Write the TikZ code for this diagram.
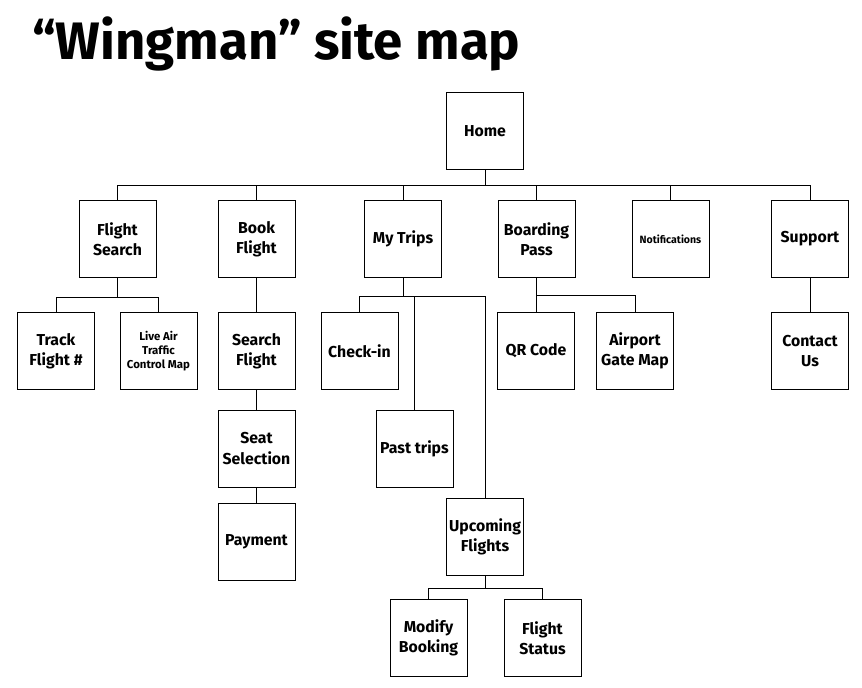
\documentclass[tikz,border=0pt]{standalone}
\usepackage{fontspec}
\setmainfont{Fira Sans}
\tikzstyle{page}=[rectangle, draw, minimum width=1.54cm, minimum height=1.54cm,
                  align=center, font=\bfseries\fontsize{9}{11.5}\selectfont, inner sep=0.02cm]
\tikzstyle{link}=[draw, thin]
\begin{document}
\begin{tikzpicture}[x=0.02cm, y=-0.02cm]
\useasboundingbox (0,0) rectangle (862,687);
%%%%%%%%%%%%%%%%%%%%%%%%%%%%%%
% title
\node[anchor=west, font=\bfseries\fontsize{30}{32}\selectfont] (title) at (26,44) {“Wingman” site map};

%%%%%%%%%%%%%%%%%%%%%%%%%%%%%%
% nodes

% top
\node (home) at (485, 131) [page] {Home};

% first level
\node (search) at (117.5, 239) [page] {Flight\\Search};
\node (book) at (256.5, 239) [page] {Book\\Flight};
\node (trips) at (403, 239) [page] {My Trips};
\node (board) at (536.5, 239) [page] {Boarding\\Pass};
\node (notif) at (670.5, 239) [page, font=\bfseries\fontsize{6}{7}\selectfont] {Notifications};
\node (support) at (810, 239) [page] {Support};

% flight search
\node (track) at (56, 351) [page] {Track\\Flight \#};
\node (atc) at (158.5, 351) [page, font=\bfseries\fontsize{6.5}{8}\selectfont] {Live Air\\Traffic\\Control Map};

% book flight
\node (findflight) at (256.5, 351) [page] {Search\\Flight};
\node (seat) at (256.5, 448.5) [page] {Seat\\Selection};
\node (pay) at (256.5, 542) [page] {Payment};

% my trips
\node (checkin) at (359.5, 351) [page] {Check-in};
\node (past) at (414.5, 448.5) [page] {Past trips};
\node (upcoming) at (485, 536.5) [page] {Upcoming\\Flights};
\node (modify) at (428.5, 638) [page] {Modify\\Booking};
\node (status) at (542.5, 638) [page] {Flight\\Status};

% boarding pass
\node (qr) at (536, 351) [page] {QR Code};
\node (gate) at (635, 351) [page] {Airport\\Gate Map};

% support
\node (contact) at (810, 351) [page] {Contact\\Us};

%%%%%%%%%%%%%%%%%%%%%%%%%%%%%%
% links

\draw [link] (home.south) -- ++(0,16) -| (search.north);
\draw [link] (home.south) -- ++(0,16) -| (book.north);
\draw [link] (home.south) -- ++(0,16) -| (trips.north);
\draw [link] (home.south) -- ++(0,16) -| (board.north);
\draw [link] (home.south) -- ++(0,16) -| (notif.north);
\draw [link] (home.south) -- ++(0,16) -| (support.north);

\draw [link] (search.south) -- ++(0,20) -| (track.north);
\draw [link] (search.south) -- ++(0,20) -| (atc.north);

\draw [link] (book) -- (findflight);
\draw [link] (findflight) -- (seat);
\draw [link] (seat) -- (pay);

\draw [link] (trips.south) -- ++(0,19) -| (checkin.north);
\draw [link] (trips.south) -- ++(0,19) -| (past.north);
\draw [link] (trips.south) -- ++(0,19) -| (upcoming.north);

\draw [link] (upcoming.south) -- ++(0,13) -| (modify.north);
\draw [link] (upcoming.south) -- ++(0,13) -| (status.north);

\draw [link] (board.south) -- ++(0,18) -| (qr.north);
\draw [link] (board.south) -- ++(0,18) -| (gate.north);

\draw [link] (support) -- (contact);

\end{tikzpicture}
\end{document}
